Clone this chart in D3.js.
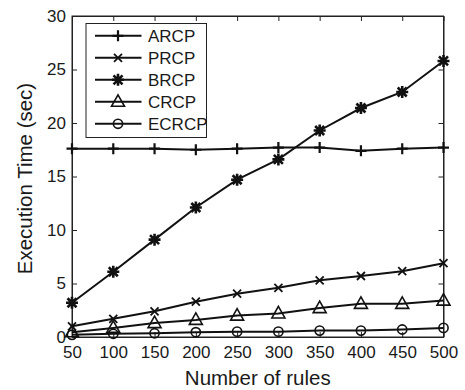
<!DOCTYPE html>
<html>
<head>
<meta charset="utf-8">
<script src="https://cdn.jsdelivr.net/npm/d3@7"></script>
<style>
  body { margin: 0; background: #fff; }
  text { font-family: "Liberation Sans", Arial, sans-serif; fill: #1a1a1a; }
</style>
</head>
<body>
<div id="chart"></div>
<script>
// data
const rules = [50, 100, 150, 200, 250, 300, 350, 400, 450, 500];
const arcp  = [17.6, 17.6, 17.6, 17.5, 17.6, 17.7, 17.7, 17.4, 17.6, 17.7];
const prcp  = [1.0, 1.7, 2.4, 3.3, 4.05, 4.6, 5.3, 5.7, 6.15, 6.9];
const brcp  = [3.2, 6.1, 9.1, 12.1, 14.7, 16.6, 19.3, 21.4, 22.9, 25.8];
const crcp  = [0.45, 0.85, 1.3, 1.6, 2.0, 2.2, 2.7, 3.1, 3.1, 3.4];
const ecrcp = [0.2, 0.3, 0.35, 0.45, 0.5, 0.5, 0.6, 0.6, 0.7, 0.85];
const seriesNames = ["ARCP", "PRCP", "BRCP", "CRCP", "ECRCP"];
const seriesMarkers = ["plus", "cross", "star", "triangle", "circle"];
const yTicks = [0, 5, 10, 15, 20, 25, 30];

const series = [arcp, prcp, brcp, crcp, ecrcp].map((vals, i) => ({
  name: seriesNames[i], marker: seriesMarkers[i],
  points: vals.map((v, j) => ({ x: rules[j], y: v }))
}));

const W = 465, H = 390;
const pl = 72, pr = 443.5, pt = 16, pb = 337;

const svg = d3.select("#chart").append("svg")
  .attr("width", W).attr("height", H);

const x = d3.scaleLinear().domain([50, 500]).range([pl, pr]);
const y = d3.scaleLinear().domain([0, 30]).range([pb, pt]);

// axes with inward ticks (MATLAB style)
const tickLen = 5;
svg.append("g").attr("transform", `translate(0,${pb})`)
  .call(d3.axisBottom(x).tickValues(rules).tickSizeInner(-tickLen).tickSizeOuter(0).tickPadding(9));
svg.append("g").attr("transform", `translate(${pl},0)`)
  .call(d3.axisLeft(y).tickValues(yTicks).tickSizeInner(-tickLen).tickSizeOuter(0).tickPadding(6));
svg.append("g").attr("transform", `translate(0,${pt})`)
  .call(d3.axisTop(x).tickValues(rules).tickSizeInner(-tickLen).tickSizeOuter(0).tickFormat(""));
svg.append("g").attr("transform", `translate(${pr},0)`)
  .call(d3.axisRight(y).tickValues(yTicks).tickSizeInner(-tickLen).tickSizeOuter(0).tickFormat(""));

svg.selectAll(".domain").attr("stroke", "#222").attr("stroke-width", 1);
svg.selectAll(".tick line").attr("stroke", "#222");
svg.selectAll(".tick text").attr("font-size", 17)
  .attr("font-family", "Liberation Sans, Arial, sans-serif").attr("fill", "#1a1a1a");

// frame
svg.append("rect").attr("x", pl).attr("y", pt)
  .attr("width", pr - pl).attr("height", pb - pt)
  .attr("fill", "none").attr("stroke", "#222").attr("stroke-width", 1);

// axis labels
svg.append("text").attr("x", (pl + pr) / 2).attr("y", 385)
  .attr("text-anchor", "middle").attr("font-size", 20.5).text("Number of rules");
svg.append("text")
  .attr("transform", `translate(32,${(pt + pb) / 2 + 2}) rotate(-90)`)
  .attr("text-anchor", "middle").attr("font-size", 20.5).text("Execution Time (sec)");

function drawMarker(g, type) {
  const s = "#111";
  if (type === "plus") {
    g.append("path").attr("d", "M-5.5,0H5.5M0,-5.5V5.5")
      .attr("stroke", s).attr("stroke-width", 2.2).attr("fill", "none");
  } else if (type === "cross") {
    g.append("path").attr("d", "M-4,-4L4,4M-4,4L4,-4")
      .attr("stroke", s).attr("stroke-width", 1.8).attr("fill", "none");
  } else if (type === "star") {
    g.append("path").attr("d", "M-6,0H6M0,-6V6M-4.5,-4.5L4.5,4.5M-4.5,4.5L4.5,-4.5")
      .attr("stroke", s).attr("stroke-width", 2.6).attr("fill", "none");
  } else if (type === "triangle") {
    g.append("path").attr("d", "M0,-7L6.5,4.5H-6.5Z")
      .attr("stroke", s).attr("stroke-width", 1.6).attr("fill", "none");
  } else if (type === "circle") {
    g.append("circle").attr("r", 4.6)
      .attr("stroke", s).attr("stroke-width", 1.6).attr("fill", "none");
  }
}

const line = d3.line().x(d => x(d.x)).y(d => y(d.y));

series.forEach(sr => {
  const g = svg.append("g");
  g.append("path").datum(sr.points).attr("d", line)
    .attr("fill", "none").attr("stroke", "#111").attr("stroke-width", 2);
  g.selectAll("g.m").data(sr.points).enter().append("g")
    .attr("transform", d => `translate(${x(d.x)},${y(d.y)})`)
    .each(function () { drawMarker(d3.select(this), sr.marker); });
});

// legend
const lg = svg.append("g");
lg.append("rect").attr("x", 86).attr("y", 23.5).attr("width", 120.5).attr("height", 114)
  .attr("fill", "#fff").attr("stroke", "#222").attr("stroke-width", 1);
series.forEach((sr, i) => {
  const cy = 35.8 + i * 22;
  lg.append("line").attr("x1", 95).attr("x2", 141.5).attr("y1", cy).attr("y2", cy)
    .attr("stroke", "#111").attr("stroke-width", 2);
  drawMarker(lg.append("g").attr("transform", `translate(118,${cy})`), sr.marker);
  lg.append("text").attr("x", 148).attr("y", cy + 6).attr("font-size", 17).text(sr.name);
});
</script>
</body>
</html>
